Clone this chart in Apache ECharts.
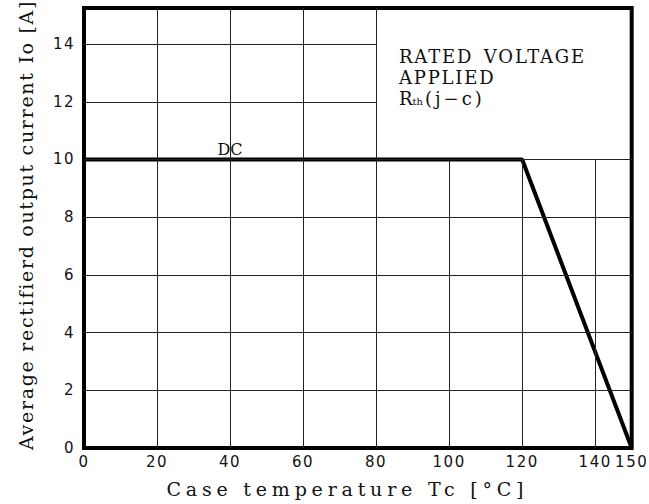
<!DOCTYPE html>
<html>
<head>
<meta charset="utf-8">
<script src="https://cdn.jsdelivr.net/npm/echarts@6/dist/echarts.min.js"></script>
<style>
html, body { margin: 0; padding: 0; background: #fff; }
#chart { width: 649px; height: 504px; }
</style>
</head>
<body>
<div id="chart"></div>
<script>
// derating curve (DC)
var tempPoints = [0, 120, 150];
var currentPoints = [10, 10, 0];

// axes
var xMax = 150;
var xStep = 20;
var yMax = 15.25;   // top of the frame, no label there
var yStep = 2;

// grid lines, the upper right box (note) has none
var xGridFull = [20, 40, 60, 80];
var xGridShort = [100, 120, 140];
var yGridFull = [2, 4, 6, 8, 10];
var yGridShort = [12, 14];
var boxX = 80;
var boxY = 10;

var dcLabelAt = [40, 10];
var xName = 'Case temperature Tc [°C]';
var yName = 'Average rectifierd output current Io [A]';

var serif = 'DejaVu Serif';
var sans = 'DejaVu Sans';

var gridLines = [];
xGridFull.forEach(function (x) { gridLines.push([{ coord: [x, 0] }, { coord: [x, yMax] }]); });
xGridShort.forEach(function (x) { gridLines.push([{ coord: [x, 0] }, { coord: [x, boxY] }]); });
yGridFull.forEach(function (y) { gridLines.push([{ coord: [0, y] }, { coord: [xMax, y] }]); });
yGridShort.forEach(function (y) { gridLines.push([{ coord: [0, y] }, { coord: [boxX, y] }]); });

var curve = tempPoints.map(function (t, i) { return [t, currentPoints[i]]; });

var chart = echarts.init(document.getElementById('chart'), null, { renderer: 'svg' });

var noteStyle = { fontFamily: serif, fontSize: 18, fontWeight: 'normal', lineHeight: 21, color: '#111' };

chart.setOption({
  backgroundColor: '#fff',
  animation: false,
  title: {
    left: 399,
    top: 45.5,
    padding: 0,
    text: '{a|RATED }{v|VOLTAGE}\n{a|APPLIED}\n{a|R}{s|th}{p|(j−c)}',
    textStyle: {
      fontWeight: 'normal',
      rich: {
        a: noteStyle,
        v: Object.assign({}, noteStyle, { padding: [0, 0, 0, 14] }),
        s: { fontFamily: serif, fontSize: 10, fontWeight: 'normal', color: '#111', padding: [6, 0, 0, 0] },
        p: Object.assign({}, noteStyle, { padding: [0, 0, 0, 2] })
      }
    }
  },
  grid: {
    left: 84, right: 16.5, top: 8, bottom: 56,
    show: true, borderColor: '#000', borderWidth: 4, z: 4
  },
  xAxis: {
    type: 'value', min: 0, max: xMax, interval: xStep,
    name: xName, nameLocation: 'middle', nameGap: 31,
    nameTextStyle: { fontFamily: serif, fontSize: 19, color: '#111', padding: [0, 21, 0, 0] },
    axisLine: { show: false }, axisTick: { show: false }, splitLine: { show: false },
    axisLabel: { margin: 6, fontFamily: sans, fontSize: 15, color: '#111' }
  },
  yAxis: {
    type: 'value', min: 0, max: yMax, interval: yStep,
    name: yName, nameLocation: 'middle', nameGap: 49,
    nameTextStyle: { fontFamily: serif, fontSize: 19, color: '#111', padding: [0, 0, 0, 6] },
    axisLine: { show: false }, axisTick: { show: false }, splitLine: { show: false },
    axisLabel: {
      margin: 9, fontFamily: sans, fontSize: 15, color: '#111',
      formatter: function (v) { return v % yStep === 0 ? String(v) : ''; }
    }
  },
  series: [
    {
      type: 'line', data: [], z: 1, silent: true,
      markLine: {
        silent: true, symbol: ['none', 'none'], label: { show: false },
        lineStyle: { color: '#222', width: 1, type: 'solid' },
        data: gridLines
      }
    },
    {
      type: 'line', data: curve, z: 3, symbol: 'none',
      lineStyle: { color: '#000', width: 4 },
      markPoint: {
        symbol: 'circle', symbolSize: 0,
        data: [{ coord: dcLabelAt }],
        label: { show: true, position: 'top', distance: 2, formatter: 'DC',
                 fontFamily: serif, fontSize: 16, color: '#111' }
      }
    }
  ]
});

// the reference text is letter-spaced; SVG text takes a letter-spacing attribute
var spacing = {};
spacing[xName] = 4.8;
spacing[yName] = 1.7;
spacing['RATED '] = 1.8;
spacing['VOLTAGE'] = 1.8;
spacing['APPLIED'] = 1.8;
spacing['(j−c)'] = 3;

function spaceText() {
  document.querySelectorAll('#chart text').forEach(function (t) {
    var s = t.textContent;
    var ls = spacing[s];
    if (ls === undefined && /^\d+$/.test(s)) ls = 1.5;
    if (ls !== undefined) t.setAttribute('letter-spacing', ls + 'px');
  });
}
chart.on('finished', spaceText);
spaceText();
setTimeout(spaceText, 0);
</script>
</body>
</html>
